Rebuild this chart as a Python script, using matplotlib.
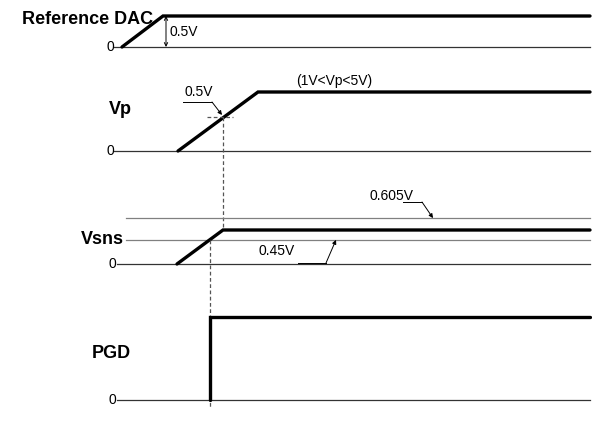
import matplotlib.pyplot as plt

plt.rcParams['font.family'] = ['Liberation Sans', 'DejaVu Sans']

# Waveforms: time points (x) and normalised level (0 = low, 1 = high)
dac_t = [122, 163, 590]
dac_lv = [0, 1, 1]
vp_t = [178, 258, 590]
vp_lv = [0, 1, 1]
vsns_t = [177, 223, 590]
vsns_lv = [0, 1, 1]
pgd_t = [210, 210, 590]
pgd_lv = [0, 1, 1]

# Vsns threshold levels (relative to the plateau) and their labels
vsns_thr = [1.35, 0.71]
vsns_thr_labels = ['0.605V', '0.45V']

# Row layout: baseline y (pixels from top) and height of level 1
rows = {
    'dac': (47, 31),
    'vp': (151, 59),
    'vsns': (264, 34),
    'pgd': (400, 83),
}


def to_y(row, lv):
    base, h = rows[row]
    return [base - v * h for v in lv]


fig = plt.figure(figsize=(5.92, 4.33), dpi=100)
ax = fig.add_axes([0, 0, 1, 1])
ax.set_xlim(0, 592)
ax.set_ylim(433, 0)
ax.axis('off')

thick = dict(color='black', lw=2.4, solid_capstyle='round', solid_joinstyle='miter')
base_kw = dict(color='#333333', lw=0.9)
dash_kw = dict(color='#555555', lw=0.9, ls=(0, (3, 2)))
arrow = dict(arrowstyle='-|>', color='black', lw=0.7, shrinkA=0, shrinkB=0, mutation_scale=6)
big = dict(fontsize=13, fontweight='bold')
small = dict(fontsize=10)

# ---- Reference DAC
b = rows['dac'][0]
ax.plot([114, 590], [b, b], **base_kw)
ax.plot(dac_t, to_y('dac', dac_lv), **thick)
ax.text(114, b, '0', ha='right', va='center', **small)
ax.text(153, 19, 'Reference DAC', ha='right', va='center', **big)
top = to_y('dac', [1])[0]
ax.annotate('', xy=(166, top), xytext=(166, b),
            arrowprops=dict(arrowstyle='<->', color='black', lw=0.7,
                            shrinkA=0, shrinkB=0, mutation_scale=6))
ax.text(169, 32, '0.5V', ha='left', va='center', **small)

# ---- Vp
b = rows['vp'][0]
ax.plot([114, 590], [b, b], **base_kw)
ax.plot(vp_t, to_y('vp', vp_lv), **thick)
ax.text(114, b, '0', ha='right', va='center', **small)
ax.text(109, 110, 'Vp', ha='left', va='center', **big)
ax.text(334, 81, '(1V<Vp<5V)', ha='center', va='center', **small)
# 0.5V crossing marker
x_cross = 223
y_cross = 117
ax.plot([207, 233], [y_cross, y_cross], **dash_kw)
ax.plot([x_cross, x_cross], [y_cross, 230], **dash_kw)
ax.text(199, 92, '0.5V', ha='center', va='center', **small)
ax.plot([183, 212], [102, 102], color='black', lw=0.7)
ax.annotate('', xy=(222, 115), xytext=(212, 102), arrowprops=arrow)

# ---- Vsns
b, h = rows['vsns']
ax.plot([117, 590], [b, b], **base_kw)
thr_kw = dict(color='#808080', lw=0.9)
for lv in vsns_thr:
    y = b - lv * h
    ax.plot([126, 590], [y, y], **thr_kw)
ax.plot(vsns_t, to_y('vsns', vsns_lv), **thick)
ax.text(116, b, '0', ha='right', va='center', **small)
ax.text(124, 239, 'Vsns', ha='right', va='center', **big)
# 0.605V leader
y605 = b - vsns_thr[0] * h
ax.text(392, 196, vsns_thr_labels[0], ha='center', va='center', **small)
ax.plot([403, 422], [202, 202], color='black', lw=0.7)
ax.annotate('', xy=(433, y605), xytext=(422, 202), arrowprops=arrow)
# 0.45V leader
y45 = b - vsns_thr[1] * h
ax.text(277, 251, vsns_thr_labels[1], ha='center', va='center', **small)
ax.plot([298, 326], [263, 263], color='black', lw=0.7)
ax.annotate('', xy=(336, y45), xytext=(326, 263), arrowprops=arrow)
ax.plot([210, 210], [y45, 408], **dash_kw)

# ---- PGD
b = rows['pgd'][0]
ax.plot([117, 590], [b, b], **base_kw)
ax.plot(pgd_t, to_y('pgd', pgd_lv), **thick)
ax.text(116, b, '0', ha='right', va='center', **small)
ax.text(92, 353, 'PGD', ha='left', va='center', **big)

fig.savefig('out.png', dpi=100, facecolor='white')
